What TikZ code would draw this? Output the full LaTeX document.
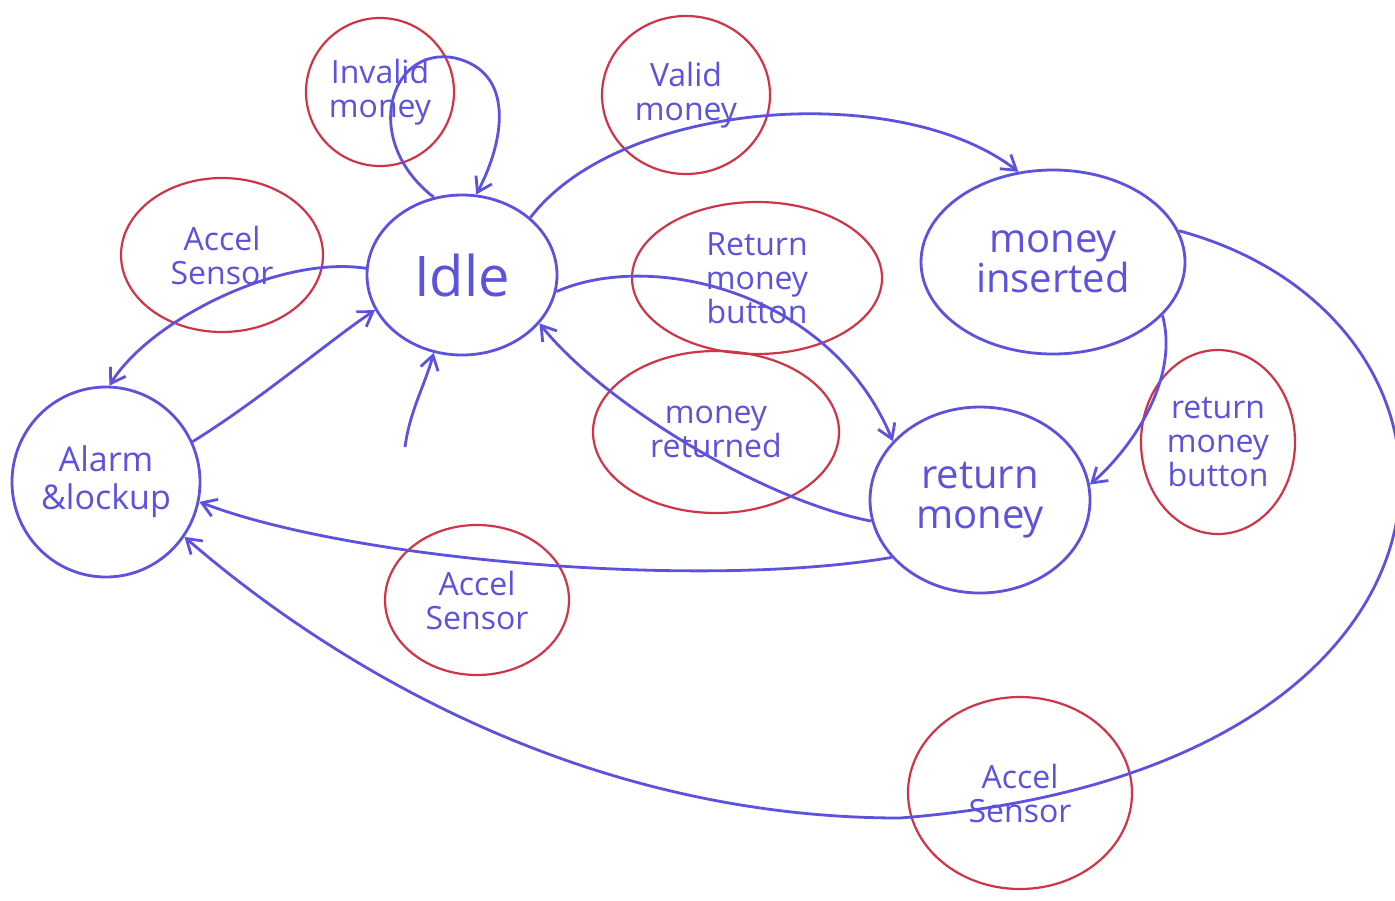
\documentclass[tikz,border=0pt]{standalone}
\usepackage{fontspec}
\setmainfont{Open Sans}
\usetikzlibrary{shapes.geometric,arrows.meta}
\definecolor{penblue}{RGB}{92,82,222}
\definecolor{penred}{RGB}{208,52,72}
\tikzset{
  state/.style={ellipse,draw=penblue,line width=1.4pt,text=penblue,align=center,inner sep=0pt,font=\fontsize{20}{20}\selectfont},
  lbl/.style={ellipse,draw=penred,line width=1.1pt,text=penblue,align=center,inner sep=0pt,font=\fontsize{16}{17}\selectfont},
  trans/.style={draw=penblue,line width=1.4pt,-{Straight Barb[length=7pt,width=9pt,line width=1.4pt]}},
}
\begin{document}
\begin{tikzpicture}[x=0.5pt,y=-0.5pt]
\useasboundingbox[fill=white] (0,0) rectangle (1395,900);
% states
\node[state,minimum width=95pt,minimum height=80pt,font=\fontsize{28}{28}\selectfont] (idle) at (462,275) {Idle};
\node[state,minimum width=132pt,minimum height=92pt] (ins) at (1053,262) {money\\inserted};
\node[state,minimum width=110pt,minimum height=93pt] (ret) at (980,500) {return\\money};
\node[state,minimum width=94pt,minimum height=95pt,font=\fontsize{17}{19}\selectfont] (alarm) at (106,482) {Alarm\\\&lockup};
% labels
\node[lbl,minimum width=74pt,minimum height=74pt] (linv) at (380,92) {Invalid\\money};
\node[lbl,minimum width=84pt,minimum height=79pt] (lval) at (686,95) {Valid\\money};
\node[lbl,minimum width=101pt,minimum height=77pt] (lacc1) at (222,255) {Accel\\Sensor};
\node[lbl,minimum width=125pt,minimum height=76pt] (lrmb1) at (757,278) {Return\\money\\button};
\node[lbl,minimum width=123pt,minimum height=81pt] (lmr) at (716,432) {money\\returned};
\node[lbl,minimum width=77pt,minimum height=92pt] (lrmb2) at (1218,442) {return\\money\\button};
\node[lbl,minimum width=92pt,minimum height=75pt] (lacc2) at (477,600) {Accel\\Sensor};
\node[lbl,minimum width=112pt,minimum height=96pt] (lacc3) at (1020,793) {Accel\\Sensor};
% initial
\coordinate (init) at (405,447);
% transitions
\draw[trans] (idle.110) .. controls (360,140) and (390,45) .. (455,58) .. controls (515,72) and (505,140) .. (idle.80);
\draw[trans] (idle.40) .. controls (620,100) and (900,80) .. (ins.111);
\draw[trans] (idle.176) .. controls (280,255) and (150,320) .. (alarm.88);
\draw[trans] (alarm.25) .. controls (260,400) and (330,340) .. (idle.202);
\draw[trans] (init) .. controls (410,410) and (425,385) .. (idle.250);
\draw[trans] (idle.350) .. controls (650,250) and (830,290) .. (ret.146);
\draw[trans] (ret.191) .. controls (760,500) and (600,400) .. (idle.328);
\draw[trans] (ins.334) .. controls (1180,380) and (1130,450) .. (ret.8);
\draw[trans] (ret.213) .. controls (700,590) and (350,560) .. (alarm.348);
\draw[trans] (ins.14) .. controls (1510,320) and (1510,770) .. (900,818) .. controls (600,818) and (350,680) .. (alarm.325);
\end{tikzpicture}
\end{document}
